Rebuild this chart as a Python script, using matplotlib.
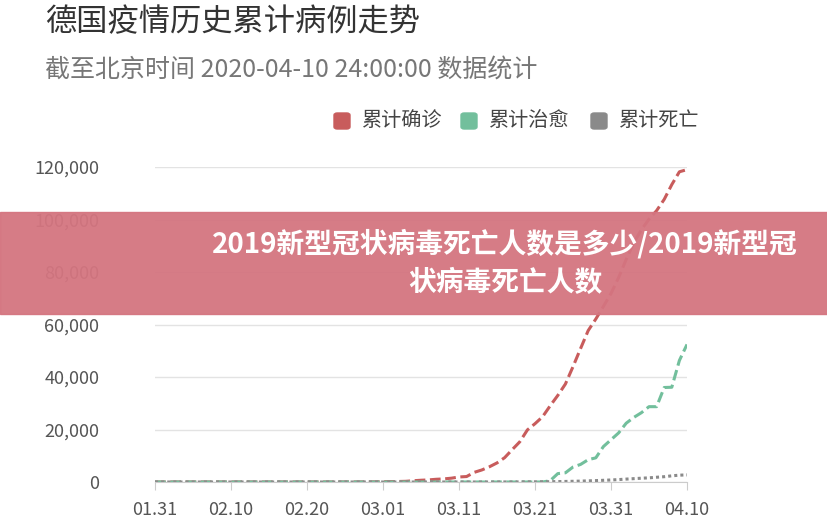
import matplotlib.pyplot as plt
import matplotlib.patches as mpatches
import numpy as np

plt.rcParams['font.family'] = ['Noto Sans CJK SC', 'DejaVu Sans']

# daily data 01.31 .. 04.10
confirmed_feb = [10, 12, 12, 12, 12, 13, 14, 14, 14, 14, 16, 16, 16, 16, 16, 16, 16, 16, 16,
                 16, 16, 16, 16, 16, 16, 18, 27, 46, 48, 79]
confirmed_mar = [130, 159, 196, 262, 482, 670, 799, 1040, 1176, 1457, 1908, 2078, 3675, 4585,
                 5795, 7272, 9257, 12327, 15320, 19848, 22213, 24873, 29056, 32986, 37323,
                 43938, 50871, 57695, 62095, 66885, 71808]
confirmed_apr = [77872, 84794, 91159, 96092, 100123, 103374, 107663, 113296, 118181, 119000]
recovered = [0] * 52 + [500, 3200, 3500, 5700, 6700, 8500, 9200, 13500, 16100, 18700,
                        22400, 24600, 26400, 28700, 28700, 36000, 36100, 46300, 52400]
deaths_mar = [0, 0, 0, 0, 0, 0, 0, 0, 2, 2, 3, 3, 7, 9, 11, 17, 24, 28, 44, 67, 84, 94,
              123, 157, 206, 267, 342, 433, 533, 645, 775]
deaths_apr = [920, 1107, 1275, 1444, 1584, 1810, 2016, 2349, 2607, 2700]
confirmed = confirmed_feb + confirmed_mar + confirmed_apr
deaths = [0] * 30 + deaths_mar + deaths_apr
tick_labels = ['01.31', '02.10', '02.20', '03.01', '03.11', '03.21', '03.31', '04.10']
x = np.arange(len(confirmed))

fig = plt.figure(figsize=(8.28, 5.27), dpi=100)
ax = fig.add_axes([155/828, 1-482/527, (687-155)/828, (482-167)/527])

ax.plot(x, confirmed, color='#c85c5c', lw=2.2, ls=(0, (3.5, 1.5)))
ax.plot(x, recovered, color='#72bf9c', lw=2.2, ls=(0, (3.5, 1.5)))
ax.plot(x, deaths, color='#8a8a8a', lw=2.2, ls=(0, (1, 1)))

ax.set_xlim(0, 70)
ax.set_ylim(0, 120000)
ax.set_yticks(np.arange(0, 120001, 20000))
ax.set_yticklabels([f'{v:,}' for v in range(0, 120001, 20000)])
ax.set_xticks(np.arange(0, 71, 10))
ax.set_xticklabels(tick_labels)
ax.grid(axis='y', color='#e3e3e3', lw=1)
for s in ['top', 'right', 'left']:
    ax.spines[s].set_visible(False)
ax.spines['bottom'].set_color('#cccccc')
ax.tick_params(axis='y', length=0, pad=40, labelsize=13, labelcolor='#555555')
ax.tick_params(axis='x', length=6, color='#cccccc', pad=8, labelsize=13, labelcolor='#555555')

fig.text(45/828, 1-22/527, '德国疫情历史累计病例走势', fontsize=22.5, color='#333333', va='center')
fig.text(45/828, 1-70/527, '截至北京时间 2020-04-10 24:00:00 数据统计', fontsize=18,
         color='#777777', va='center')

legend = [('累计确诊', '#c85c5c', 334), ('累计治愈', '#72bf9c', 461), ('累计死亡', '#8a8a8a', 591)]
for name, col, px in legend:
    fig.patches.append(mpatches.FancyBboxPatch((px/828, 1-129/527), 16/828, 16/527,
                       boxstyle='round,pad=0,rounding_size=0.004', color=col,
                       transform=fig.transFigure))
    fig.text((px+28)/828, 1-121/527, name, fontsize=14.5, color='#444444', va='center')

fig.patches.append(mpatches.Rectangle((0, 1-314/527), 1, 102/527, color='#d47580',
                   alpha=0.95, transform=fig.transFigure, zorder=5))
fig.text(505/828, 1-263/527, '2019新型冠状病毒死亡人数是多少/2019新型冠\n状病毒死亡人数',
         fontsize=20, fontweight='bold', color='white', ha='center', va='center',
         linespacing=1.45, zorder=6)

fig.savefig('out.png', dpi=100)
